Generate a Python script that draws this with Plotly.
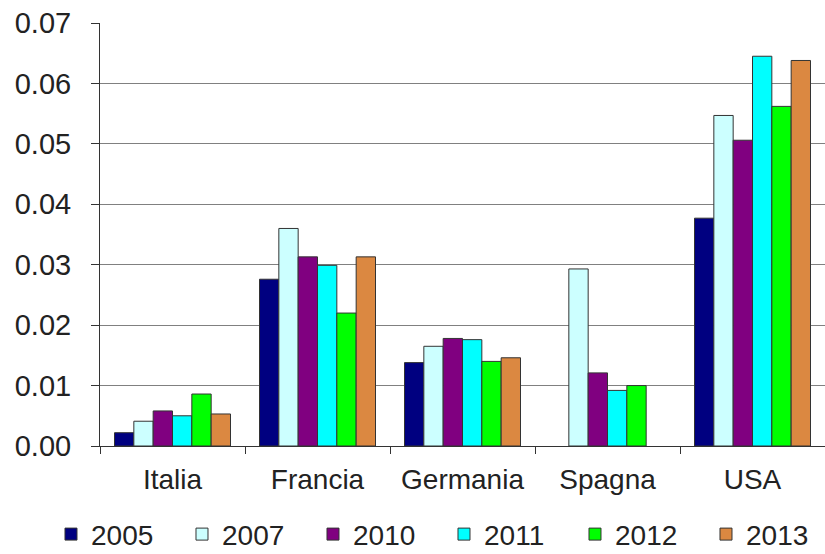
import plotly.graph_objects as go

categories = ["Italia", "Francia", "Germania", "Spagna", "USA"]
years = ["2005", "2007", "2010", "2011", "2012", "2013"]
v2005 = [0.0022, 0.0276, 0.0138, None, 0.0377]
v2007 = [0.0041, 0.0360, 0.0165, 0.0293, 0.0547]
v2010 = [0.0058, 0.0313, 0.0178, 0.0121, 0.0506]
v2011 = [0.0050, 0.0299, 0.0176, 0.0092, 0.0645]
v2012 = [0.0086, 0.0220, 0.0140, 0.0100, 0.0562]
v2013 = [0.0053, 0.0313, 0.0146, None, 0.0638]
series = [v2005, v2007, v2010, v2011, v2012, v2013]
colors = ["#000080", "#CCFFFF", "#800080", "#00FFFF", "#00FF00", "#DB8841"]

fig = go.Figure()
for name, vals, col in zip(years, series, colors):
    fig.add_trace(go.Bar(
        x=categories, y=vals, name=name,
        marker=dict(color=col, line=dict(color="#333333", width=1)),
    ))

font = "Liberation Sans, Arial, sans-serif"
fig.update_layout(
    width=825, height=554,
    margin=dict(l=100, r=0, t=23, b=108, autoexpand=False),
    paper_bgcolor="white", plot_bgcolor="white",
    barmode="group", bargap=0.2, bargroupgap=0,
    font=dict(family=font, size=28, color="#222222"),
    showlegend=True,
    legend=dict(orientation="h", xref="paper", yref="paper",
                x=-0.0676, xanchor="left", y=-0.209, yanchor="middle",
                font=dict(size=28, family=font), itemwidth=30,
                traceorder="normal", entrywidth=86, entrywidthmode="pixels",
                tracegroupgap=0),
    xaxis=dict(
        showline=True, linecolor="#333333", linewidth=1,
        ticks="outside", tickson="boundaries", ticklen=7, tickcolor="#333333",
        tickfont=dict(size=28, family=font), showgrid=False,
        ticklabelstandoff=8,
    ),
    yaxis=dict(
        range=[0, 0.07], dtick=0.01, tickformat=".2f",
        showline=True, linecolor="#333333", linewidth=1,
        ticks="outside", ticklen=8, tickcolor="#333333",
        showgrid=True, gridcolor="#808080", gridwidth=1,
        tickfont=dict(size=29, family=font), zeroline=False,
        ticklabelstandoff=14,
    ),
)
fig.write_html("out.html")
